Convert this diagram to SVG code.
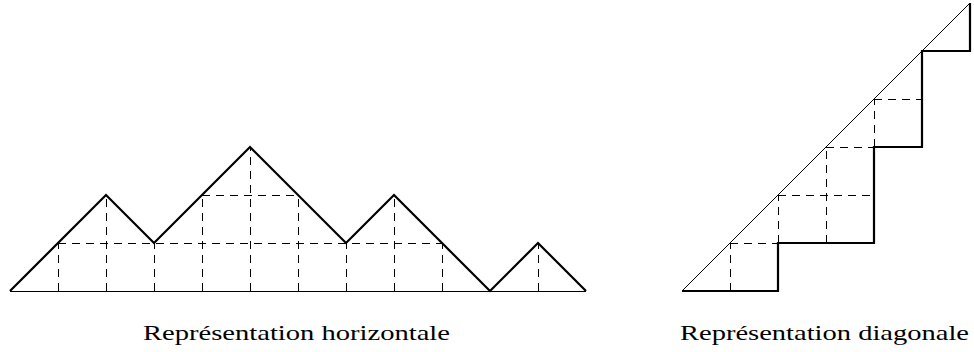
<svg xmlns="http://www.w3.org/2000/svg" width="974" height="352" viewBox="0 0 974 352">
<style>
.thin{stroke:#000;stroke-width:1;fill:none}
.thick{stroke:#000;stroke-width:2.2;fill:none;stroke-linejoin:miter}
.dash{stroke:#000;stroke-width:1;fill:none;stroke-dasharray:8,6}
.lbl{font-family:"Liberation Serif","DejaVu Serif",serif;font-size:22px;fill:#000}
</style>
<rect width="974" height="352" fill="#fff"/>
<g id="horizontal">
  <g id="h-grid">
    <path class="dash" d="M58.5,291V243M106.5,291V195M154.5,291V243M202.5,291V195M250.5,291V147M298.5,291V195M346.5,291V243M394.5,291V195M442.5,291V243M538.5,291V243"/>
    <path class="dash" d="M58,243.5H442M202,195.5H298"/>
  </g>
  <line class="thin" x1="10" y1="291.5" x2="586" y2="291.5"/>
  <polyline class="thick" points="10,291 106,195 154,243 250,147 346,243 394,195 490,291 538,243 586,291"/>
  <text class="lbl" x="143" y="340" textLength="307" lengthAdjust="spacingAndGlyphs">Représentation horizontale</text>
</g>
<g id="diagonal">
  <g id="d-grid">
    <path class="dash" d="M730.5,291V243M778.5,243V195M826.5,243V147M874.5,147V99"/>
    <path class="dash" d="M730,243.5H778M778,195.5H874M826,147.5H874M874,99.5H922"/>
  </g>
  <line class="thin" x1="682" y1="291" x2="970" y2="3"/>
  <polyline class="thick" points="682,291 778,291 778,243 874,243 874,147 922,147 922,51 970,51 970,3"/>
  <text class="lbl" x="680" y="340" textLength="289" lengthAdjust="spacingAndGlyphs">Représentation diagonale</text>
</g>
</svg>
